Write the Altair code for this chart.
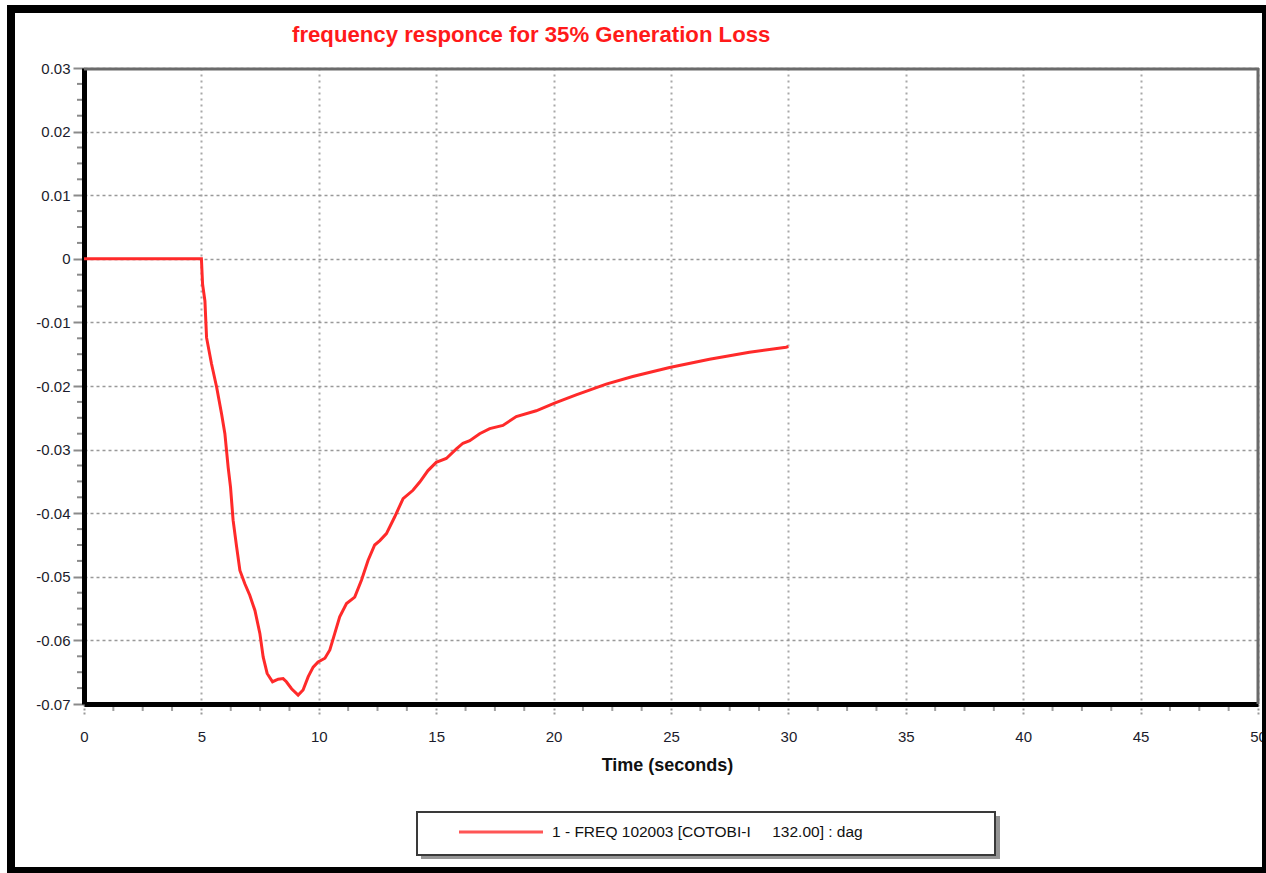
import altair as alt
import pandas as pd

# ---- data ----
time_s = [0, 5.0, 5.05, 5.15, 5.22, 5.43, 5.65, 5.86, 6.0, 6.14, 6.24, 6.35, 6.5, 6.64,
          6.85, 7.06, 7.28, 7.49, 7.63, 7.8, 8.03, 8.27, 8.48, 8.62, 8.84, 9.12, 9.33,
          9.55, 9.76, 9.97, 10.26, 10.47, 10.68, 10.89, 11.18, 11.53, 11.82, 12.1, 12.38,
          12.6, 12.88, 13.23, 13.59, 14.01, 14.3, 14.65, 15.0, 15.43, 15.86, 16.14, 16.43,
          16.85, 17.28, 17.84, 18.41, 19.26, 20.04, 20.96, 22.24, 23.37, 24.94, 26.64,
          28.34, 29.9, 30.0]
freq_dev = [0, 0, -0.004, -0.0066, -0.0124, -0.0165, -0.0202, -0.0244, -0.0275, -0.0328,
            -0.0359, -0.0411, -0.0453, -0.049, -0.0511, -0.0529, -0.0553, -0.0589, -0.0626,
            -0.0652, -0.0665, -0.0661, -0.066, -0.0665, -0.0676, -0.0686, -0.0678, -0.0657,
            -0.0642, -0.0634, -0.0628, -0.0615, -0.0589, -0.0563, -0.0542, -0.0532, -0.0505,
            -0.0474, -0.045, -0.0443, -0.0432, -0.0406, -0.0377, -0.0364, -0.0351, -0.0333,
            -0.032, -0.0314, -0.0299, -0.029, -0.0286, -0.0275, -0.0267, -0.0262, -0.0248,
            -0.0239, -0.0227, -0.0214, -0.0197, -0.0185, -0.0171, -0.0158, -0.0147, -0.0139,
            -0.0138]
x_ticks = [0, 5, 10, 15, 20, 25, 30, 35, 40, 45, 50]
y_ticks = [0.03, 0.02, 0.01, 0, -0.01, -0.02, -0.03, -0.04, -0.05, -0.06, -0.07]
x_minor = [round(i * 1.25, 2) for i in range(41) if i % 4 != 0]
y_minor = [round(-0.07 + i * 0.0025, 4) for i in range(41) if i % 4 != 0]

title_text = "frequency responce for 35% Generation Loss"
x_title = "Time (seconds)"
legend_text = "1 - FREQ 102003 [COTOBI-I\u00a0\u00a0\u00a0\u00a0\u00a0132.00] : dag"

W, H = 1174, 636
FONT = "Liberation Sans"

df = pd.DataFrame({"t": time_s, "f": freq_dev})
one = pd.DataFrame({"k": [0]})

xscale = alt.Scale(domain=[0, 50], nice=False, zero=False)
yscale = alt.Scale(domain=[-0.07, 0.03], nice=False, zero=False)

line = alt.Chart(df).mark_line(color="#ff2a2a", strokeWidth=3).encode(
    x=alt.X("t:Q", scale=xscale, axis=alt.Axis(
        values=x_ticks, title=x_title, labelFont=FONT, labelFontSize=15,
        labelColor="#1c1c2c", labelFlush=False, labelOverlap=False,
        labelPadding=13, tickSize=12, tickColor="#9a9a9a", tickWidth=2,
        tickDash=[2, 2], domainColor="#000000", domainWidth=5,
        grid=True, gridColor="#a8a8a8", gridWidth=2, gridDash=[2, 4],
        titleFont=FONT, titleFontSize=18, titleFontWeight="bold", titleColor="#111111",
        titleX=583, titleY=66, titleBaseline="alphabetic", titleAnchor="middle")),
    y=alt.Y("f:Q", scale=yscale, axis=alt.Axis(
        values=y_ticks, title="", labelFont=FONT, labelFontSize=15,
        labelColor="#1c1c2c", labelFlush=False, labelOverlap=False,
        labelExpr="replace(format(datum.value, '.2~f'), '\u2212', '-')",
        labelPadding=3, tickSize=11, tickColor="#8a8a8a", tickWidth=2,
        domainColor="#000000", domainWidth=5,
        grid=True, gridColor="#999999", gridWidth=1.5, gridDash=[3, 3])),
)

xm = alt.Chart(pd.DataFrame({"t": x_minor})).mark_rule(color="#a0a0a0", strokeWidth=2).encode(
    x=alt.X("t:Q", scale=xscale),
    y=alt.value(H + 3), y2=alt.value(H + 7))
ym = alt.Chart(pd.DataFrame({"f": y_minor})).mark_rule(color="#8a8a8a", strokeWidth=2).encode(
    y=alt.Y("f:Q", scale=yscale),
    x=alt.value(-7), x2=alt.value(-2))

top_border = alt.Chart(one).mark_rule(color="#6a6a6a", strokeWidth=3).encode(
    x=alt.value(0), x2=alt.value(W + 1), y=alt.value(1))
right_border = alt.Chart(one).mark_rule(color="#6a6a6a", strokeWidth=3).encode(
    x=alt.value(W), y=alt.value(0), y2=alt.value(H))

frame = alt.Chart(one).mark_rect(fill=None, stroke="#000000", strokeWidth=8).encode(
    x=alt.value(-73), x2=alt.value(1182), y=alt.value(-59), y2=alt.value(803))

leg_shadow = alt.Chart(one).mark_rect(fill="#7a7a7a", opacity=0.8).encode(
    x=alt.value(337), x2=alt.value(916), y=alt.value(748), y2=alt.value(791))
leg_box = alt.Chart(one).mark_rect(fill="#ffffff", stroke="#3a3a3a", strokeWidth=2).encode(
    x=alt.value(333), x2=alt.value(911), y=alt.value(744), y2=alt.value(787))
leg_line = alt.Chart(one).mark_rule(color="#ff5555", strokeWidth=3).encode(
    x=alt.value(375), x2=alt.value(459), y=alt.value(764))
leg_text = alt.Chart(one).mark_text(
    text=legend_text, font=FONT, fontSize=15.5, color="#111111", align="left",
    baseline="middle").encode(x=alt.value(468), y=alt.value(764))

title = alt.Chart(one).mark_text(
    text=title_text, font=FONT, fontSize=22.2, fontWeight="bold", color="#ff1a1a",
    align="left", baseline="alphabetic").encode(x=alt.value(208), y=alt.value(-26))

chart = alt.layer(
    line, xm, ym, top_border, right_border, frame, leg_shadow, leg_box, leg_line,
    leg_text, title
).properties(
    width=W, height=H,
    autosize=alt.AutoSizeParams(type="none"),
    padding={"left": 84, "top": 68, "right": 8, "bottom": 169},
    background="#ffffff",
).configure_view(stroke=None)

chart.save("out.html", embed_options={"renderer": "svg", "actions": False})
